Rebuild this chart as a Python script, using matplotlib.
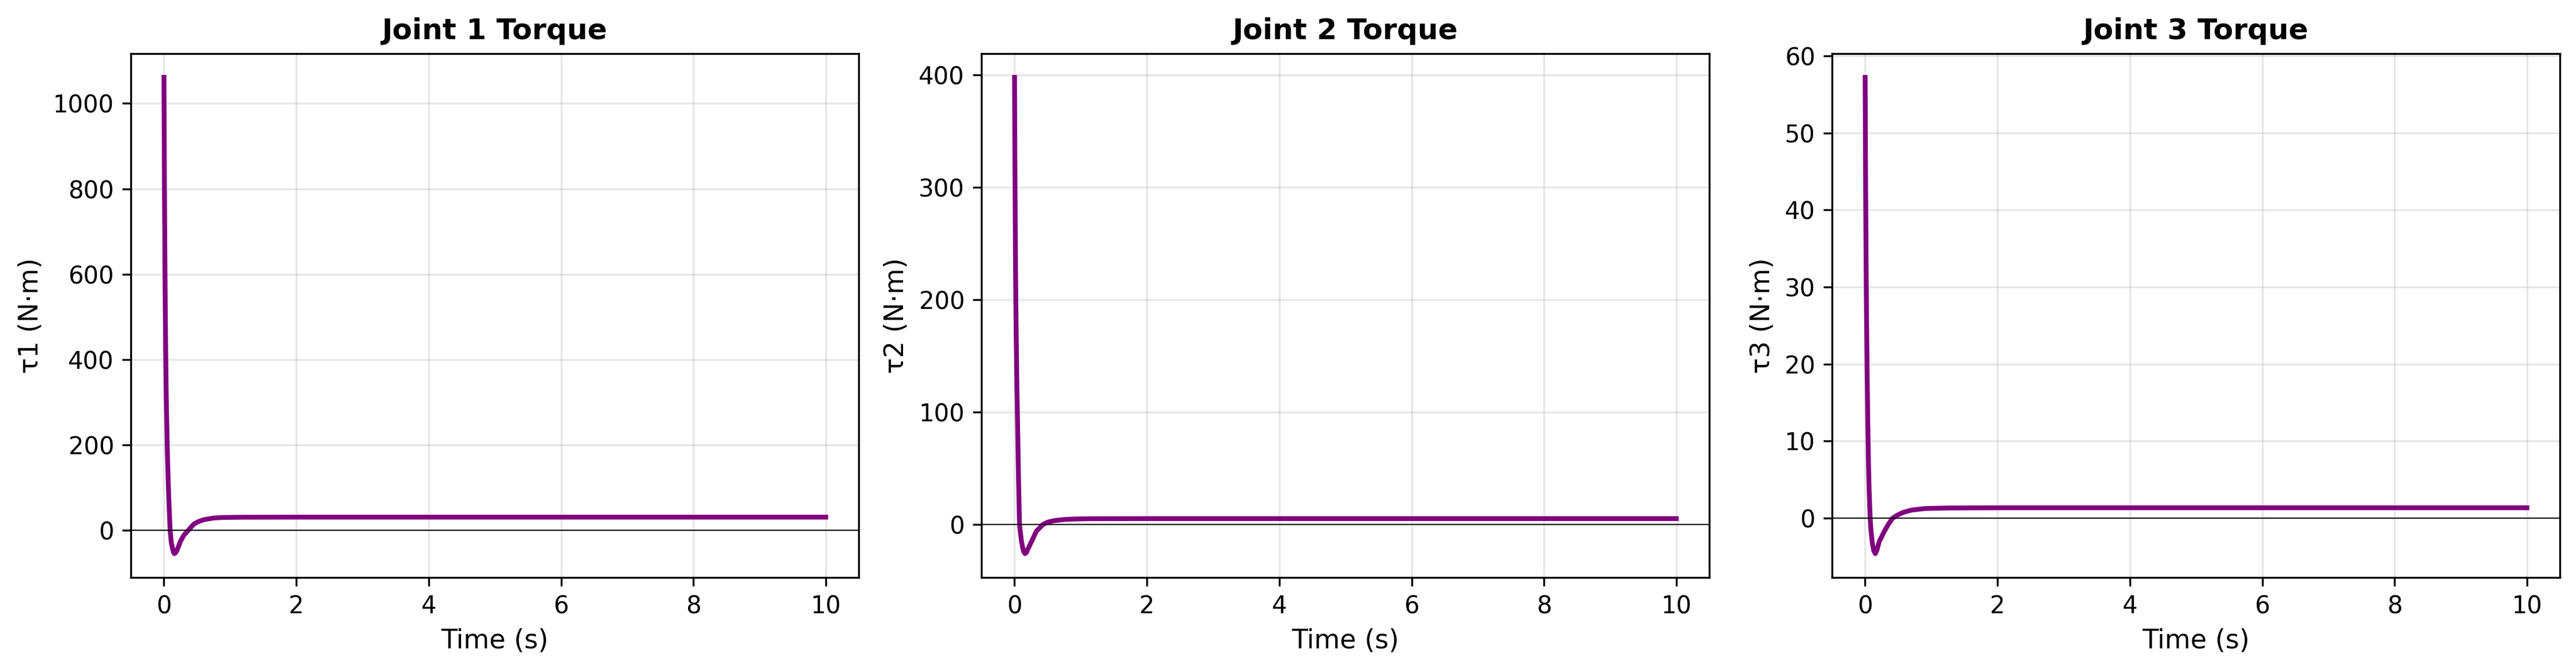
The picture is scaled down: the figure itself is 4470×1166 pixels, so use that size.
import matplotlib
matplotlib.use('Agg')
import matplotlib.pyplot as plt

# values (time in s, torque in N·m)
time_1 = [0.0, 0.005, 0.01, 0.015, 0.02, 0.026, 0.035, 0.05, 0.065, 0.08, 0.093,
          0.11, 0.13, 0.145, 0.157, 0.175, 0.195, 0.25, 0.3, 0.37, 0.45, 0.52,
          0.6, 0.75, 0.9, 1.2, 2.0, 10.0]
tau_1 = [1061, 880, 740, 620, 520, 420, 310, 195, 110, 48, 0,
         -28, -43, -52, -55, -53, -48, -26, -12, 0, 14, 20,
         24.5, 28.5, 29.8, 30.3, 30.5, 30.5]

time_2 = [0.0, 0.005, 0.01, 0.015, 0.02, 0.025, 0.035, 0.05, 0.061, 0.075, 0.09,
          0.105, 0.124, 0.14, 0.159, 0.18, 0.197, 0.255, 0.33, 0.43, 0.5, 0.6,
          0.75, 0.9, 1.12, 2.0, 10.0]
tau_2 = [398, 330, 275, 230, 195, 170, 125, 75, 38, 0, -8,
         -15, -21, -24.5, -26, -25, -22.5, -15.4, -6, 0, 2, 3.4,
         4.4, 4.8, 5.1, 5.2, 5.2]

time_3 = [0.0, 0.005, 0.01, 0.015, 0.02, 0.03, 0.04, 0.05, 0.058, 0.067, 0.076,
          0.09, 0.11, 0.13, 0.154, 0.18, 0.212, 0.25, 0.284, 0.35, 0.415, 0.5,
          0.574, 0.7, 0.9, 1.24, 2.0, 10.0]
tau_3 = [57.2, 47, 39, 32.5, 27, 19, 12.5, 7.5, 4.4, 2, 0,
         -1.8, -3.3, -4.2, -4.6, -4.1, -3.05, -2.4, -1.8, -0.8, 0, 0.45,
         0.75, 1.05, 1.25, 1.32, 1.35, 1.35]

series = [(time_1, tau_1), (time_2, tau_2), (time_3, tau_3)]

fig = plt.figure(figsize=(14.9, 1166 / 300), dpi=300)
lefts = [0.0508, 0.3810, 0.7112]
for i, (t, tau) in enumerate(series):
    ax = fig.add_axes([lefts[i], 0.1407, 0.2826, 0.7796])
    ax.plot(t, tau, color='purple', linewidth=2)
    ax.axhline(0, color='k', linewidth=0.5)
    ax.set_title('Joint {} Torque'.format(i + 1), fontsize=12, fontweight='bold')
    ax.set_xlabel('Time (s)', fontsize=11)
    ax.set_ylabel('τ{} (N·m)'.format(i + 1), fontsize=11)
    ax.grid(True, alpha=0.3)

fig.savefig('out.png', dpi=300)
